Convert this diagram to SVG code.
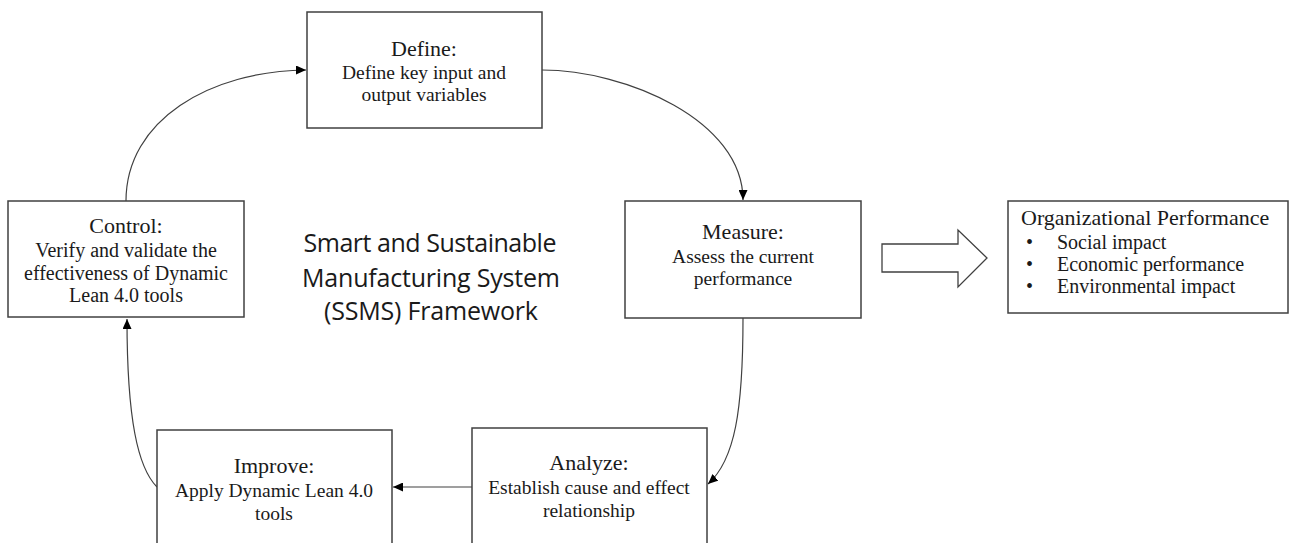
<svg xmlns="http://www.w3.org/2000/svg" width="1290" height="543" viewBox="0 0 1290 543">
<style>
.box{fill:#fff;stroke:#404040;stroke-width:1.5}
.hd{font-family:"Liberation Serif","Times New Roman",serif;font-size:22px;fill:#1a1a1a;text-anchor:middle}
.bd{font-family:"Liberation Serif","Times New Roman",serif;font-size:19.5px;fill:#1a1a1a;text-anchor:middle}
.ol{font-family:"Liberation Serif","Times New Roman",serif;font-size:20px;fill:#1a1a1a}
.ttl{font-family:"Open Sans","Liberation Sans",sans-serif;font-size:25px;fill:#1a1a1a;text-anchor:middle}
.con{fill:none;stroke:#404040;stroke-width:1.2;marker-end:url(#ah)}
</style>
<defs>
<marker id="ah" markerUnits="userSpaceOnUse" markerWidth="11" markerHeight="9" refX="10" refY="4.5" orient="auto">
<path d="M0,0 L10,4.5 L0,9 z" fill="#000"/>
</marker>
</defs>
<rect width="1290" height="543" fill="#fff"/>
<g id="connectors">
<path class="con" d="M126,201 C126,120 210,71 306,70"/>
<path class="con" d="M542,70 C625,70 743,120 743,200"/>
<path class="con" d="M743,318 C743,410 735,460 708,484"/>
<path class="con" d="M472,487 L393,487"/>
<path class="con" d="M157,487 C138,468 127,420 127,319"/>
</g>
<g id="define">
<rect class="box" x="307" y="12" width="235" height="116"/>
<text class="hd" x="424" y="56">Define:</text>
<text class="bd" x="424" y="79">Define key input and</text>
<text class="bd" x="424" y="101">output variables</text>
</g>
<g id="control">
<rect class="box" x="8" y="201" width="236" height="116"/>
<text class="hd" x="126" y="233">Control:</text>
<text class="bd" x="126" y="257" style="font-size:20px">Verify and validate the</text>
<text class="bd" x="126" y="280" style="font-size:20px">effectiveness of Dynamic</text>
<text class="bd" x="126" y="302" style="font-size:20px">Lean 4.0 tools</text>
</g>
<g id="measure">
<rect class="box" x="625" y="201" width="236" height="117"/>
<text class="hd" x="743" y="239">Measure:</text>
<text class="bd" x="743" y="263">Assess the current</text>
<text class="bd" x="743" y="285">performance</text>
</g>
<g id="analyze">
<rect class="box" x="472" y="428" width="235" height="130"/>
<text class="hd" x="589" y="470">Analyze:</text>
<text class="bd" x="589" y="494">Establish cause and effect</text>
<text class="bd" x="589" y="517">relationship</text>
</g>
<g id="improve">
<rect class="box" x="157" y="430" width="235" height="130"/>
<text class="hd" x="274" y="473">Improve:</text>
<text class="bd" x="274" y="497">Apply Dynamic Lean 4.0</text>
<text class="bd" x="274" y="520">tools</text>
</g>
<g id="title">
<text class="ttl" x="430" y="252" textLength="253">Smart and Sustainable</text>
<text class="ttl" x="431" y="287" textLength="258">Manufacturing System</text>
<text class="ttl" x="431" y="320" textLength="214">(SSMS) Framework</text>
</g>
<g id="bigarrow">
<path d="M882,244 L958,244 L958,230 L987,258 L958,287 L958,272 L882,272 z" fill="#fff" stroke="#404040" stroke-width="1.3" stroke-linejoin="miter"/>
</g>
<g id="performance">
<rect class="box" x="1008" y="201" width="280" height="112"/>
<text class="ol" x="1021" y="225" style="font-size:22px">Organizational Performance</text>
<text class="ol" x="1026" y="249">•</text>
<text class="ol" x="1057" y="249">Social impact</text>
<text class="ol" x="1026" y="271">•</text>
<text class="ol" x="1057" y="271">Economic performance</text>
<text class="ol" x="1026" y="293">•</text>
<text class="ol" x="1057" y="293">Environmental impact</text>
</g>
</svg>
